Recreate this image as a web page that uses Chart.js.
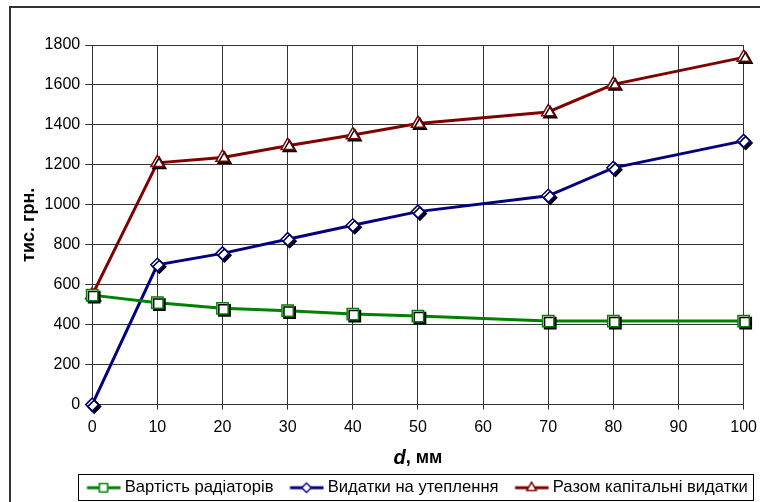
<!DOCTYPE html>
<html>
<head>
<meta charset="utf-8">
<script src="https://cdn.jsdelivr.net/npm/chart.js@4.4.0/dist/chart.umd.min.js"></script>
<style>
    html, body { margin: 0; padding: 0; background: #fff; overflow: hidden; }
    #wrap { position: relative; width: 760px; height: 502px; overflow: hidden; }
</style>
</head>
<body>
<div id="wrap"><canvas id="chart" width="765" height="502"></canvas></div>
<script>
// товщина утеплювача, мм
const thicknessMm = [0, 10, 20, 30, 40, 50, 70, 80, 100];
// тис. грн.
const radiatorCost = [548, 510, 482, 470, 453, 443, 418, 418, 418];
const insulationCost = [0, 700, 757, 828, 898, 966, 1045, 1185, 1320];
const totalCost = [548, 1210, 1237, 1296, 1350, 1407, 1465, 1603, 1738];

const seriesNames = ['Вартість радіаторів', 'Видатки на утеплення', 'Разом капітальні видатки'];
const seriesColors = ['#008000', '#000080', '#800000'];
const seriesMarkers = ['rect', 'rectRot', 'triangle'];
const markerSizes = [8, 6.5, 7.5];

const xTickStep = 10;
const yTickStep = 200;
const xMax = 100;
const yMax = 1800;

const FONT = '"Liberation Sans", Arial, sans-serif';

// тінь під маркерами, як в Excel
(function () {
    const PE = Chart.elements.PointElement;
    const origDraw = PE.prototype.draw;
    PE.prototype.draw = function (ctx, area) {
        ctx.save();
        ctx.shadowColor = '#000';
        ctx.shadowOffsetX = 2;
        ctx.shadowOffsetY = 2;
        ctx.shadowBlur = 0;
        origDraw.call(this, ctx, area);
        ctx.restore();
    };
})();

// іконки для легенди: лінія + маркер (ширша за pointStyleWidth, щоб зсунути лінію)
const ICON_W = 52;
function makeLegendIcon(color, marker, r) {
    const c = document.createElement('canvas');
    c.width = ICON_W;
    c.height = 14;
    const ctx = c.getContext('2d');
    ctx.strokeStyle = color;
    ctx.lineWidth = 3;
    ctx.beginPath();
    ctx.moveTo(15.5, 7);
    ctx.lineTo(49, 7);
    ctx.stroke();
    ctx.fillStyle = '#fff';
    ctx.lineWidth = 1.3;
    Chart.helpers.drawPoint(ctx, { pointStyle: marker, radius: r, borderWidth: 1.3 }, 32, 7);
    ctx.fill();
    ctx.stroke();
    return c;
}
const legendIcons = seriesColors.map((c, i) => makeLegendIcon(c, seriesMarkers[i], markerSizes[i] * 0.72));

function buildDataset(i, values) {
    return {
        label: seriesNames[i],
        data: thicknessMm.map((x, k) => ({ x: x, y: values[k] })),
        borderColor: seriesColors[i],
        borderWidth: 3,
        backgroundColor: '#fff',
        pointStyle: seriesMarkers[i],
        pointRadius: markerSizes[i],
        pointHoverRadius: markerSizes[i],
        pointBackgroundColor: '#fff',
        pointBorderColor: seriesColors[i],
        pointBorderWidth: 1.5,
        tension: 0,
        clip: false
    };
}

const LEGEND_LEFT = 70.5;
const LEGEND_SHIFT_Y = 4;

const framePlugin = {
    id: 'frame',
    afterLayout(chart) {
        // зсунути легенду, як в оригіналі
        const lg = chart.legend;
        const w = lg.right - lg.left;
        lg.left = LEGEND_LEFT;
        lg.right = LEGEND_LEFT + w;
        lg.top += LEGEND_SHIFT_Y;
        lg.bottom += LEGEND_SHIFT_Y;
    },
    beforeDraw(chart) {
        const ctx = chart.ctx;
        ctx.save();
        ctx.fillStyle = '#fff';
        ctx.fillRect(0, 0, chart.width, chart.height);
        ctx.strokeStyle = '#333';
        ctx.lineWidth = 2;
        ctx.strokeRect(10, 7, chart.width + 20, chart.height + 20);
        ctx.restore();
    },
    afterDraw(chart) {
        const ctx = chart.ctx;
        // рамка легенди
        const boxes = chart.legend.legendHitBoxes;
        if (boxes && boxes.length) {
            const first = boxes[0];
            const last = boxes[boxes.length - 1];
            const left = Math.round(first.left) - 0.5;
            const right = Math.round(last.left + last.width) + 5.5;
            const top = Math.round(first.top) - 4.5;
            const bottom = Math.round(first.top + first.height) + 4.5;
            ctx.save();
            ctx.strokeStyle = '#000';
            ctx.lineWidth = 1;
            ctx.strokeRect(left, top, right - left, bottom - top);
            ctx.restore();
        }
        // підпис осі X: d курсивом
        const cx = (chart.chartArea.left + chart.chartArea.right) / 2;
        const cy = 458;
        ctx.save();
        ctx.fillStyle = '#000';
        ctx.textBaseline = 'middle';
        const f1 = 'italic bold 20px ' + FONT;
        const f2 = 'bold 18px ' + FONT;
        ctx.font = f1;
        const w1 = ctx.measureText('d').width;
        ctx.font = f2;
        const w2 = ctx.measureText(', мм').width;
        const x0 = cx - (w1 + w2) / 2;
        ctx.font = f1;
        ctx.fillText('d', x0, cy);
        ctx.font = f2;
        ctx.fillText(', мм', x0 + w1, cy);
        ctx.restore();
    }
};

new Chart(document.getElementById('chart'), {
    type: 'line',
    data: {
        datasets: [
            buildDataset(0, radiatorCost),
            buildDataset(1, insulationCost),
            buildDataset(2, totalCost)
        ]
    },
    options: {
        responsive: false,
        animation: false,
        events: [],
        layout: { padding: { left: 14, right: 17, top: 45, bottom: 0 } },
        scales: {
            x: {
                type: 'linear',
                min: 0,
                max: xMax,
                ticks: { stepSize: xTickStep, color: '#000', font: { family: FONT, size: 16 }, padding: 8, maxRotation: 0 },
                grid: { color: '#333', lineWidth: 1, tickLength: 5 },
                border: { color: '#333', width: 1 },
                title: { display: true, text: 'd, мм', color: 'rgba(0,0,0,0)', font: { family: FONT, size: 18, weight: 'bold' }, padding: { top: 0, bottom: 1 } }
            },
            y: {
                min: 0,
                max: yMax,
                ticks: { stepSize: yTickStep, color: '#000', font: { family: FONT, size: 16 }, padding: 5, callback: v => String(v) },
                grid: { color: '#333', lineWidth: 1, tickLength: 7 },
                border: { color: '#333', width: 1 },
                title: { display: true, text: 'тис. грн.', color: '#000', font: { family: FONT, size: 18, weight: 'bold' }, padding: { top: 4, bottom: 0 } }
            }
        },
        plugins: {
            tooltip: { enabled: false },
            legend: {
                position: 'bottom',
                align: 'start',
                labels: {
                    usePointStyle: true,
                    pointStyleWidth: 38,
                    padding: 8,
                    color: '#000',
                    font: { family: FONT, size: 16.6 },
                    generateLabels(chart) {
                        return Chart.defaults.plugins.legend.labels.generateLabels(chart).map((it, i) => {
                            it.pointStyle = legendIcons[i];
                            return it;
                        });
                    }
                }
            }
        }
    },
    plugins: [framePlugin]
});
</script>
</body>
</html>
